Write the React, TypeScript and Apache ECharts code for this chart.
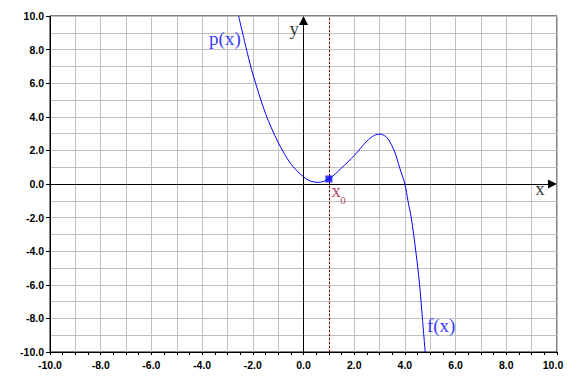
import React, { useEffect, useRef } from "react";
import * as echarts from "echarts";

// Curve f(x) ≈ p(x)
const curveX = [-2.56, -2.2, -2.0, -1.5, -1.0, -0.5, 0, 0.3, 0.6, 1.0, 1.5, 2.0, 2.5, 2.8, 3.0, 3.3, 3.6, 3.8, 4.0, 4.12, 4.25, 4.43, 4.58, 4.69, 4.8];
const curveY = [10, 7.7, 6.55, 4.2, 2.48, 1.2, 0.42, 0.16, 0.1, 0.3, 0.95, 1.69, 2.55, 2.9, 2.97, 2.75, 1.9, 0.93, 0, -1, -2, -4, -6, -8, -10];

// Expansion point x0
const x0Value = 1;
const x0FValue = 0.3;

// Axis ranges
const axisMin = -10;
const axisMax = 10;

// Text annotations (data-space anchors)
const annotationTexts = ["p(x)", "f(x)", "y", "x", "x", "0"];
const annotationX = [-3.1, 5.43, -0.36, 9.33, 1.29, 1.56];
const annotationY = [8.67, -8.4, 9.26, -0.27, -0.39, -0.97];

export default function App() {
  const ref = useRef<HTMLDivElement>(null);

  useEffect(() => {
    const chart = echarts.init(ref.current!, null, { renderer: "svg" });
    const labelFont = {
      fontFamily: "'Liberation Sans', Arial, sans-serif",
      fontWeight: "bold" as const,
      fontSize: 10.5,
      color: "#000",
    };
    const serif = "'Liberation Serif', 'Times New Roman', serif";
    const annStyles = [
      { color: "#0000ff", fontSize: 19 },
      { color: "#0000ff", fontSize: 19 },
      { color: "#000000", fontSize: 19 },
      { color: "#000000", fontSize: 19 },
      { color: "#a01048", fontSize: 19 },
      { color: "#a01048", fontSize: 11 },
    ];

    chart.setOption({
      animation: false,
      backgroundColor: "#ffffff",
      grid: {
        left: 50,
        right: 10,
        top: 16,
        bottom: 33,
        show: true,
        borderColor: "#000",
        borderWidth: 1,
        backgroundColor: "transparent",
      },
      xAxis: {
        type: "value",
        min: axisMin,
        max: axisMax,
        interval: 1,
        axisLine: { show: true, onZero: false, lineStyle: { color: "#000", width: 1 } },
        axisTick: { show: true, length: 3, inside: false, lineStyle: { color: "#000" } },
        minorTick: { show: true, splitNumber: 2, length: 3, lineStyle: { color: "#000" } },
        splitLine: { show: true, lineStyle: { color: "#c0c0c0", width: 1 } },
        axisLabel: {
          ...labelFont,
          margin: 7,
          formatter: (v: number) => {
            const r = Math.round(v);
            if (r % 2 !== 0) return "";
            if (r === axisMax) return "{r|" + r.toFixed(1) + "}";
            return r.toFixed(1);
          },
          rich: { r: { ...labelFont, padding: [0, 8, 0, 0] } },
        },
      },
      yAxis: {
        type: "value",
        min: axisMin,
        max: axisMax,
        interval: 2,
        axisLine: { show: true, onZero: false, lineStyle: { color: "#000", width: 1 } },
        axisTick: { show: true, length: 4, inside: false, lineStyle: { color: "#000" } },
        minorTick: { show: false, splitNumber: 2 },
        splitLine: { show: true, lineStyle: { color: "#c0c0c0", width: 1 } },
        minorSplitLine: { show: true, lineStyle: { color: "#c0c0c0", width: 1 } },
        axisLabel: {
          ...labelFont,
          margin: 6,
          formatter: (v: number) => v.toFixed(1),
        },
      },
      series: [
        {
          type: "line",
          name: "axes",
          data: [],
          silent: true,
          markLine: {
            silent: true,
            symbol: ["none", "triangle"],
            symbolSize: 9,
            label: { show: false },
            emphasis: { disabled: true },
            lineStyle: { color: "#000", width: 1, type: "solid" },
            data: [
              [{ coord: [axisMin, 0] }, { coord: [9.82, 0] }],
              [{ coord: [0, axisMin] }, { coord: [0, 9.73] }],
            ],
          },
        },
        {
          type: "line",
          name: "x0line",
          data: [],
          silent: true,
          markLine: {
            silent: true,
            symbol: ["none", "none"],
            label: { show: false },
            emphasis: { disabled: true },
            lineStyle: { color: "#800000", width: 1, type: [2, 2] },
            data: [{ xAxis: x0Value }],
          },
        },
        {
          type: "line",
          name: "f",
          data: curveX.map((x, i) => [x, curveY[i]]),
          smooth: 0.3,
          showSymbol: false,
          clip: true,
          silent: true,
          lineStyle: { color: "#0000ff", width: 1 },
          z: 4,
        },
        {
          type: "scatter",
          name: "x0",
          data: [[x0Value, x0FValue]],
          symbol: "rect",
          symbolSize: 7,
          itemStyle: { color: "#0000ff" },
          silent: true,
          z: 5,
        },
        {
          type: "scatter",
          name: "annotations",
          symbolSize: 0,
          silent: true,
          z: 6,
          data: annotationTexts.map((t, i) => ({
            value: [annotationX[i], annotationY[i]],
            name: t,
            label: {
              show: true,
              position: "inside",
              formatter: t,
              fontFamily: serif,
              fontSize: annStyles[i].fontSize,
              color: annStyles[i].color,
              textBorderWidth: 0,
              align: "center",
              verticalAlign: "middle",
            },
          })),
        },
      ],
    });
    return () => chart.dispose();
  }, []);

  return (
    <div
      ref={ref}
      style={{ position: "fixed", left: 0, top: 0, width: 567, height: 385 }}
    />
  );
}
